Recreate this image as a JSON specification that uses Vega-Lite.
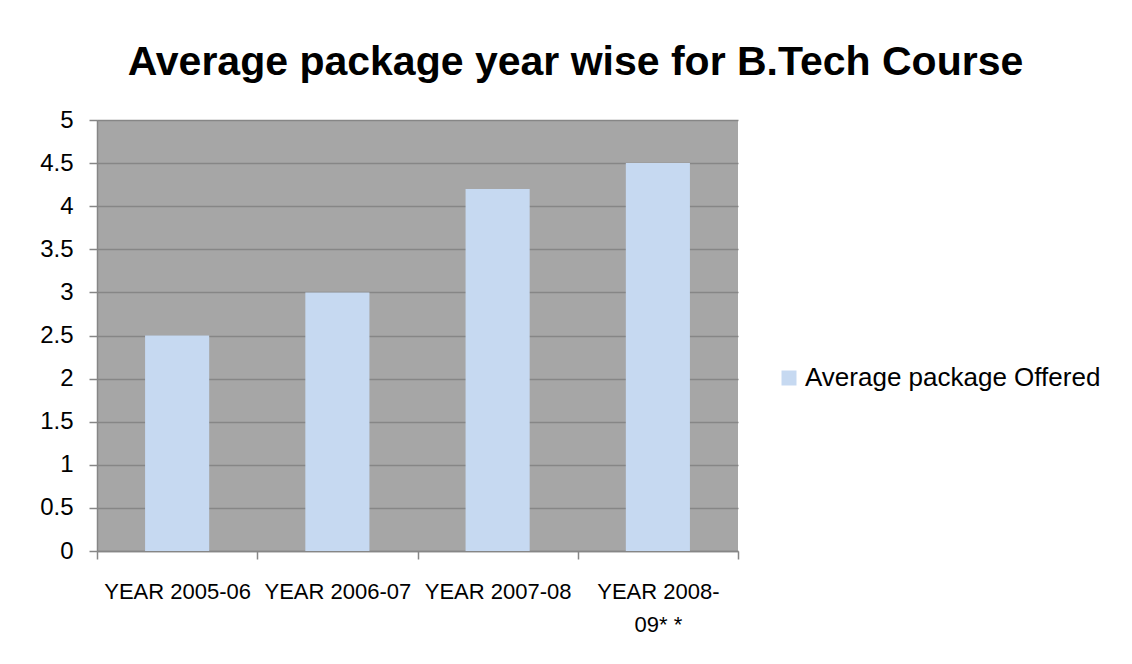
{
  "$schema": "https://vega.github.io/schema/vega-lite/v6.json",
  "autosize": "none",
  "width": 641,
  "height": 431,
  "padding": {"left": 97, "top": 120, "right": 394, "bottom": 113},
  "background": "white",
  "title": {
    "text": "Average package year wise for B.Tech Course",
    "font": "Liberation Sans",
    "fontSize": 41,
    "fontWeight": "bold",
    "color": "black",
    "anchor": "middle",
    "frame": "group",
    "dx": 158,
    "offset": 24
  },
  "data": {
    "values": [
      {"year": "YEAR 2005-06", "value": 2.5, "series": "Average package Offered"},
      {"year": "YEAR 2006-07", "value": 3.0, "series": "Average package Offered"},
      {"year": "YEAR 2007-08", "value": 4.2, "series": "Average package Offered"},
      {"year": "YEAR 2008-09**", "value": 4.5, "series": "Average package Offered"}
    ]
  },
  "mark": {"type": "bar", "width": {"band": 0.4}},
  "encoding": {
    "x": {
      "field": "year",
      "type": "nominal",
      "sort": null,
      "scale": {"paddingInner": 0, "paddingOuter": 0},
      "axis": {
        "title": null,
        "labelAngle": 0,
        "labelFont": "Liberation Sans",
        "labelFontSize": 22,
        "labelColor": "black",
        "labelPadding": 22,
        "labelBaseline": "top",
        "labelLineHeight": 33,
        "labelExpr": "datum.value == 'YEAR 2008-09**' ? ['YEAR 2008-', '09* *'] : datum.value",
        "tickBand": "extent",
        "tickSize": 8,
        "tickColor": "#868686",
        "domainColor": "#868686",
        "tickWidth": 1.5,
        "domainWidth": 1.5
      }
    },
    "y": {
      "field": "value",
      "type": "quantitative",
      "scale": {"domain": [0, 5], "nice": false},
      "axis": {
        "title": null,
        "values": [0, 0.5, 1, 1.5, 2, 2.5, 3, 3.5, 4, 4.5, 5],
        "labelExpr": "'' + datum.value",
        "labelFont": "Liberation Sans",
        "labelFontSize": 24,
        "labelColor": "black",
        "labelPadding": 16,
        "tickSize": 8,
        "tickColor": "#868686",
        "domainColor": "#868686",
        "gridColor": "#868686",
        "gridWidth": 1.5,
        "tickWidth": 1.5,
        "domainWidth": 1.5,
        "grid": true
      }
    },
    "color": {
      "field": "series",
      "type": "nominal",
      "scale": {"range": ["#c6d9f1"]},
      "legend": {
        "title": null,
        "orient": "none",
        "legendX": 679,
        "legendY": 245,
        "symbolType": "square",
        "symbolSize": 225,
        "symbolStrokeWidth": 0,
        "symbolOpacity": 1,
        "labelFont": "Liberation Sans",
        "labelFontSize": 26,
        "labelColor": "black",
        "labelOffset": 3,
        "labelLimit": 400
      }
    }
  },
  "config": {
    "view": {"fill": "#a6a6a6", "stroke": null},
    "axis": {"gridColor": "#868686"}
  }
}
